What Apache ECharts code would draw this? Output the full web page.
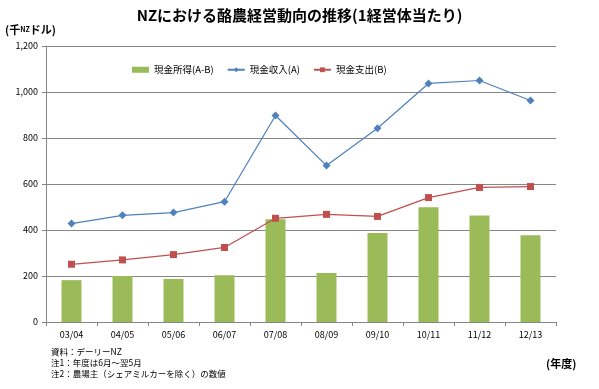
<!DOCTYPE html>
<html><head><meta charset="utf-8">
<script src="https://cdn.jsdelivr.net/npm/echarts@6/dist/echarts.min.js"></script>
<style>html,body{margin:0;padding:0;background:#fff}#c{width:599px;height:389px}</style>
</head><body><div id="c"></div>
<script>
var categories = ['03/04','04/05','05/06','06/07','07/08','08/09','09/10','10/11','11/12','12/13'];
var cashIncomeNet = [182, 200, 187, 203, 447, 213, 387, 499, 463, 377];
var cashRevenue = [428, 464, 476, 523, 898, 680, 842, 1037, 1050, 963];
var cashExpense = [251, 270, 293, 324, 451, 468, 459, 541, 585, 589];
var yTicks = {min: 0, max: 1200, interval: 200};
var seriesNames = ['現金所得(A-B)', '現金収入(A)', '現金支出(B)'];
var F = '"Noto Sans CJK JP", sans-serif';
var chart = echarts.init(document.getElementById('c'));
chart.setOption({
  animation: false,
  textStyle: {fontFamily: F},
  title: {text: 'NZにおける酪農経営動向の推移(1経営体当たり)', left: 'center', top: 3,
    textStyle: {fontSize: 15, fontWeight: 'bold', color: '#000', fontFamily: F}},
  legend: {left: 127, top: 60, itemWidth: 17, itemHeight: 6, itemGap: 13,
    textStyle: {fontSize: 9.5, color: '#000', fontFamily: F},
    data: [{name: seriesNames[0], icon: 'rect'}, {name: seriesNames[1]}, {name: seriesNames[2]}]},
  grid: {left: 46, right: 43, top: 46, bottom: 67},
  xAxis: {type: 'category', data: categories, boundaryGap: true,
    axisLine: {lineStyle: {color: '#868686'}},
    axisTick: {show: true, length: 4, lineStyle: {color: '#868686'}},
    axisLabel: {fontSize: 9, color: '#000', margin: 8}},
  yAxis: {type: 'value', min: yTicks.min, max: yTicks.max, interval: yTicks.interval,
    axisLine: {show: true, lineStyle: {color: '#868686'}},
    axisTick: {show: true, length: 4, lineStyle: {color: '#868686'}},
    splitLine: {lineStyle: {color: '#868686'}},
    axisLabel: {fontSize: 9, color: '#000', margin: 8,
      formatter: function (v) { return v.toLocaleString('en-US'); }}},
  series: [
    {name: seriesNames[0], type: 'bar', data: cashIncomeNet, barWidth: 20,
      itemStyle: {color: '#9BBB59'}},
    {name: seriesNames[1], type: 'line', data: cashRevenue, symbol: 'diamond', symbolSize: 8,
      lineStyle: {color: '#4F81BD', width: 1.25}, itemStyle: {color: '#4F81BD'}},
    {name: seriesNames[2], type: 'line', data: cashExpense, symbol: 'rect', symbolSize: 7,
      lineStyle: {color: '#C0504D', width: 1.25}, itemStyle: {color: '#C0504D'}}
  ],
  graphic: [
    {type: 'text', left: 5, top: 24, style: {text: '(千{s|NZ}ドル)', font: 'bold 11px ' + F, fill: '#000',
      rich: {s: {fontSize: 7, fontWeight: 'bold', fontFamily: F}}}},
    {type: 'text', left: 51, top: 348, style: {text: '資料：デーリーNZ', font: '8.5px ' + F, fill: '#000'}},
    {type: 'text', left: 51, top: 359, style: {text: '注1：年度は6月～翌5月', font: '8.5px ' + F, fill: '#000'}},
    {type: 'text', left: 51, top: 370, style: {text: '注2：農場主（シェアミルカーを除く）の数値', font: '8.5px ' + F, fill: '#000'}},
    {type: 'text', left: 546, top: 358, style: {text: '(年度)', font: 'bold 11px ' + F, fill: '#000'}}
  ]
});
</script></body></html>
